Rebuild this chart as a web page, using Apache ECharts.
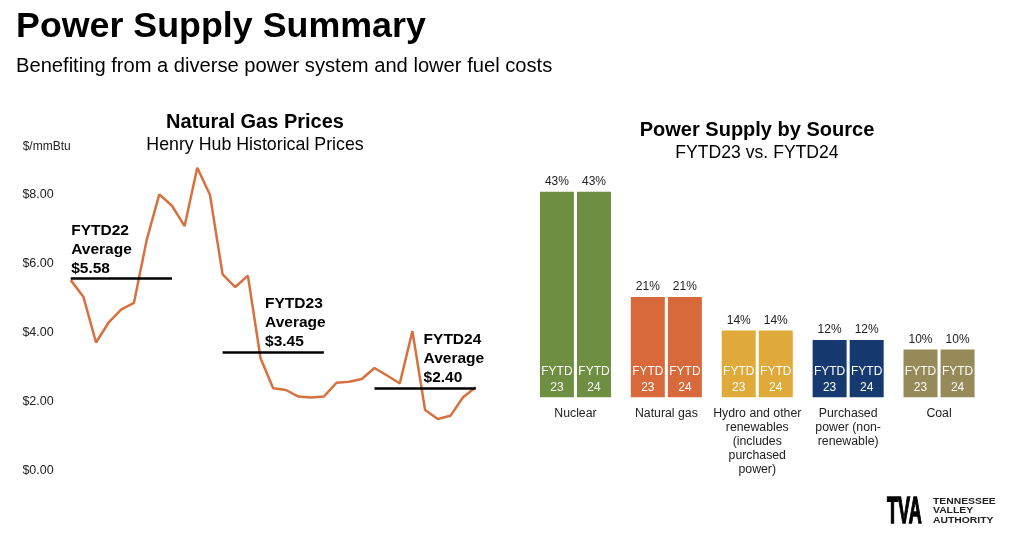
<!DOCTYPE html>
<html>
<head>
<meta charset="utf-8">
<style>
  html, body { margin: 0; padding: 0; background: #fff; }
  #chart { width: 1024px; height: 544px; }
</style>
<script src="https://cdn.jsdelivr.net/npm/echarts@6/dist/echarts.min.js"></script>
</head>
<body>
<div id="chart"></div>
<script>
// Henry Hub monthly prices, Oct 2021 to Jun 2024
const months = [
  'Oct 21', 'Nov 21', 'Dec 21', 'Jan 22', 'Feb 22', 'Mar 22', 'Apr 22', 'May 22', 'Jun 22',
  'Jul 22', 'Aug 22', 'Sep 22', 'Oct 22', 'Nov 22', 'Dec 22', 'Jan 23', 'Feb 23', 'Mar 23',
  'Apr 23', 'May 23', 'Jun 23', 'Jul 23', 'Aug 23', 'Sep 23', 'Oct 23', 'Nov 23', 'Dec 23',
  'Jan 24', 'Feb 24', 'Mar 24', 'Apr 24', 'May 24', 'Jun 24'
]
const prices = [
  5.53, 5.05, 3.72, 4.30, 4.68, 4.87, 6.69, 8.02, 7.69,
  7.10, 8.79, 8.01, 5.70, 5.33, 5.66, 3.26, 2.39, 2.34,
  2.15, 2.12, 2.15, 2.55, 2.58, 2.66, 2.98, 2.76, 2.53,
  4.05, 1.76, 1.50, 1.59, 2.13, 2.42
]
const priceTicks = [0, 2, 4, 6, 8]

// fiscal year averages
const fyNames = ['FYTD22', 'FYTD23', 'FYTD24']
const fyAverages = [5.58, 3.45, 2.40]
const fyStart = ['Oct 21', 'Oct 22', 'Oct 23']
const fyEnd = ['Jun 22', 'Jun 23', 'Jun 24']
const fyLabelAt = ['Oct 21', 'Jan 23', 'Feb 24']

// power supply shares
const sources = [
  'Nuclear',
  'Natural gas',
  'Hydro and other\nrenewables\n(includes\npurchased\npower)',
  'Purchased\npower (non-\nrenewable)',
  'Coal'
]
const fytd23 = [43, 21, 14, 12, 10]
const fytd24 = [43, 21, 14, 12, 10]
const sourceColors = ['#6e8f42', '#d8693a', '#e0aa3b', '#163a70', '#958a58']

const font = '"Liberation Sans", Arial, sans-serif'

// one year of bars plus a zero height bar on the stack that carries the % label
function barSeries(year, values) {
  return [{
    type: 'bar',
    stack: year,
    xAxisIndex: 1,
    yAxisIndex: 1,
    barWidth: 34,
    barGap: '9%',
    data: values.map((v, i) => ({ value: v, itemStyle: { color: sourceColors[i] } })),
    label: {
      show: true,
      position: 'insideBottom',
      distance: 2,
      formatter: 'FYTD\n' + year,
      color: '#fff',
      fontFamily: font,
      fontSize: 12,
      lineHeight: 15.5
    }
  }, {
    type: 'bar',
    stack: year,
    xAxisIndex: 1,
    yAxisIndex: 1,
    barWidth: 34,
    data: values.map(() => 0),
    label: {
      show: true,
      position: 'top',
      distance: 4,
      formatter: p => values[p.dataIndex] + '%',
      color: '#222',
      fontFamily: font,
      fontSize: 12
    }
  }]
}

function headline(text, x, y, size, bold) {
  return {
    text: text,
    left: x,
    top: y,
    textAlign: 'center',
    padding: 0,
    textStyle: { fontFamily: font, fontSize: size, fontWeight: bold ? 'bold' : 'normal', color: '#000' }
  }
}

const chart = echarts.init(document.getElementById('chart'))
chart.setOption({
  backgroundColor: '#fff',
  animation: false,
  title: [
    { text: 'Power Supply Summary', left: 16, top: 9, padding: 0, textStyle: { fontFamily: font, fontSize: 35.8, fontWeight: 'bold', color: '#000' } },
    { text: 'Benefiting from a diverse power system and lower fuel costs', left: 16, top: 56, padding: 0, textStyle: { fontFamily: font, fontSize: 20.15, fontWeight: 'normal', color: '#000' } },
    headline('Natural Gas Prices', 255, 112, 20, true),
    headline('Henry Hub Historical Prices', 255, 136, 17.8, false),
    headline('Power Supply by Source', 757, 120, 20, true),
    headline('FYTD23 vs. FYTD24', 757, 144, 17.6, false)
  ],
  grid: [
    { left: 70.7, top: 160.6, width: 405, height: 310 },
    { left: 530, top: 158.3, width: 454.5, height: 239 }
  ],
  xAxis: [{
    type: 'category',
    gridIndex: 0,
    data: months,
    boundaryGap: false,
    axisLine: { show: false },
    axisTick: { show: false },
    axisLabel: { show: false }
  }, {
    type: 'category',
    gridIndex: 1,
    data: sources,
    axisLine: { show: false },
    axisTick: { show: false },
    axisLabel: { interval: 0, margin: 9, fontFamily: font, fontSize: 12.3, lineHeight: 14.1, color: '#222' }
  }],
  yAxis: [{
    type: 'value',
    gridIndex: 0,
    min: 0,
    max: 9,
    name: '$/mmBtu',
    nameLocation: 'end',
    nameGap: 8,
    nameTextStyle: { align: 'left', padding: [0, 0, 0, -48], fontFamily: font, fontSize: 12, color: '#222' },
    axisLine: { show: false },
    axisTick: { show: false },
    splitLine: { show: false },
    axisLabel: {
      customValues: priceTicks,
      margin: 17,
      formatter: v => '$' + v.toFixed(2),
      fontFamily: font,
      fontSize: 12.5,
      color: '#222'
    }
  }, {
    type: 'value',
    gridIndex: 1,
    min: 0,
    max: 50,
    show: false
  }],
  series: [{
    type: 'line',
    xAxisIndex: 0,
    yAxisIndex: 0,
    data: prices,
    symbol: 'none',
    lineStyle: { color: '#d8703f', width: 2.5 },
    markLine: {
      silent: true,
      symbol: 'none',
      label: { show: false },
      lineStyle: { color: '#000', width: 2.5, type: 'solid' },
      data: fyNames.map((n, i) => [
        { xAxis: fyStart[i], yAxis: fyAverages[i] },
        { xAxis: fyEnd[i], yAxis: fyAverages[i] }
      ])
    },
    markPoint: {
      silent: true,
      symbol: 'circle',
      symbolSize: 1,
      itemStyle: { color: 'transparent' },
      data: fyNames.map((n, i) => ({
        coord: [fyLabelAt[i], fyAverages[i]],
        label: {
          show: true,
          position: [[1, 5, -1][i], 0],
          align: 'left',
          verticalAlign: 'bottom',
          formatter: n + '\nAverage\n$' + fyAverages[i].toFixed(2),
          fontFamily: font,
          fontSize: 15.5,
          fontWeight: 'bold',
          lineHeight: 19,
          color: '#000'
        }
      }))
    }
  }].concat(barSeries('23', fytd23), barSeries('24', fytd24)),
  graphic: [{
    type: 'text',
    x: 887,
    y: 495,
    scaleX: 0.5,
    style: { text: 'TVA', fontFamily: font, fontSize: 36, fontWeight: 'bold', fill: '#000', stroke: '#000', lineWidth: 1.5 }
  }, {
    type: 'text',
    x: 933,
    y: 497,
    scaleX: 1.15,
    style: { text: 'TENNESSEE\nVALLEY\nAUTHORITY', fontFamily: font, fontSize: 9, fontWeight: 'bold', lineHeight: 9.3, fill: '#222' }
  }]
})
</script>
</body>
</html>
